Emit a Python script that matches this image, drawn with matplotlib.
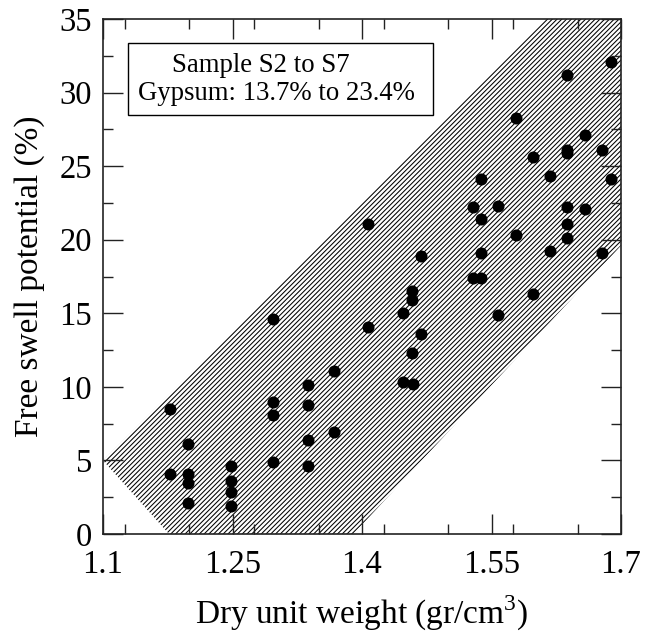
import matplotlib
matplotlib.use("Agg")
import matplotlib.pyplot as plt
from matplotlib.patches import Polygon, Rectangle
from matplotlib.ticker import MultipleLocator

# Data
dry_unit_weight = [1.178, 1.178, 1.198, 1.198, 1.198, 1.198,
                   1.248, 1.248, 1.248, 1.248,
                   1.297, 1.297, 1.297, 1.297,
                   1.338, 1.338, 1.338, 1.338,
                   1.368, 1.368,
                   1.407, 1.407,
                   1.448, 1.448, 1.458, 1.458, 1.458, 1.459, 1.468, 1.468,
                   1.528, 1.528, 1.5375, 1.5375, 1.5375, 1.5375,
                   1.558, 1.558, 1.578, 1.578, 1.598, 1.598, 1.618, 1.618,
                   1.638, 1.638, 1.638, 1.638, 1.638, 1.638,
                   1.658, 1.658, 1.678, 1.678, 1.688, 1.688]
free_swell = [8.5, 4.1, 6.1, 4.1, 3.5, 2.1,
              4.6, 3.6, 2.85, 1.9,
              14.6, 9.0, 8.1, 4.9,
              10.1, 8.8, 6.4, 4.6,
              11.1, 6.9,
              21.1, 14.1,
              15.0, 10.35, 16.5, 15.9, 12.3, 10.2, 18.9, 13.6,
              22.2, 17.4, 24.1, 21.4, 19.1, 17.4,
              22.3, 14.9, 28.3, 20.3, 25.6, 16.3, 24.3, 19.2,
              31.2, 26.1, 25.9, 22.2, 21.1, 20.1,
              27.1, 22.1, 26.1, 19.1, 32.1, 24.1]

# Hatched band outline (data coordinates)
band_x = [1.1, 1.613, 1.7, 1.7, 1.39, 1.1765]
band_y = [5.0, 35.0, 35.0, 19.6, 0.0, 0.0]

x_ticks = [1.1, 1.25, 1.4, 1.55, 1.7]
x_tick_labels = ["1.1", "1.25", "1.4", "1.55", "1.7"]
y_ticks = [0, 5, 10, 15, 20, 25, 30, 35]

legend_lines = ["Sample S2 to S7", "Gypsum: 13.7% to 23.4%"]

plt.rcParams['font.family'] = ['Liberation Serif', 'DejaVu Serif']
plt.rcParams['hatch.linewidth'] = 0.75
plt.rcParams['mathtext.fontset'] = 'custom'
plt.rcParams['mathtext.rm'] = 'Liberation Serif'

fig = plt.figure(figsize=(6.55, 6.35), dpi=100)
ax = fig.add_axes([103/655, 1-534/635, 518/655, 515/635])

band = Polygon(list(zip(band_x, band_y)), closed=True, facecolor='white',
               edgecolor='black', linewidth=0, hatch='///////', zorder=1)
ax.add_patch(band)

ax.scatter(dry_unit_weight, free_swell, s=75, color='black', zorder=3,
           linewidths=0)

ax.set_xlim(1.1, 1.7)
ax.set_ylim(0, 35)
ax.set_xticks(x_ticks)
ax.set_xticklabels(x_tick_labels)
ax.set_yticks(y_ticks)
ax.xaxis.set_minor_locator(MultipleLocator(0.075))
ax.yaxis.set_minor_locator(MultipleLocator(2.5))

ax.tick_params(which='both', direction='in', top=True, right=True,
               width=1.0, color='#222222')
ax.tick_params(which='major', length=14.5, labelsize=23.5)
ax.tick_params(which='minor', length=7.5)
ax.tick_params(axis='x', which='major', pad=11)
ax.tick_params(axis='y', which='major', pad=8)

for sp in ax.spines.values():
    sp.set_linewidth(1.2)
    sp.set_color('#222222')

ax.set_xlabel(r"Dry unit weight (gr/cm$^{3}$)", fontsize=24, labelpad=10)
ax.set_ylabel("Free swell potential (%)", fontsize=24, labelpad=10)

# Legend-like box
bx0, bx1 = 25/518, 330/518
by0, by1 = (534-115)/515, (534-43)/515
ax.add_patch(Rectangle((bx0, by0), bx1-bx0, by1-by0, transform=ax.transAxes,
                       facecolor='white', edgecolor='black', linewidth=1.0,
                       zorder=4))
ax.text((261-103)/518, (534-72)/515, legend_lines[0], transform=ax.transAxes,
        ha='center', va='baseline', fontsize=19.3, zorder=5)
ax.text((276.5-103)/518, (534-100)/515, legend_lines[1], transform=ax.transAxes,
        ha='center', va='baseline', fontsize=19.3, zorder=5)

fig.savefig("out.png", dpi=100)
